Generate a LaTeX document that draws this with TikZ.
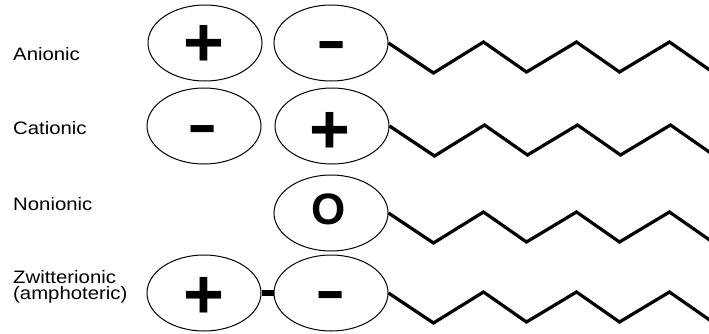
\documentclass[tikz,border=0pt]{standalone}
\usepackage{fontspec}
\setmainfont{Liberation Sans}
\usetikzlibrary{shapes.geometric}
\tikzset{
  head/.style={draw=black, line width=1pt, ellipse, minimum width=114pt, minimum height=76pt, inner sep=0pt},
  sign/.style={inner sep=0pt, font=\fontsize{70}{70}\selectfont\bfseries},
  zero/.style={inner sep=0pt, font=\fontsize{44}{44}\selectfont\bfseries},
  lab/.style={inner sep=0pt, anchor=base west, font=\fontsize{18}{20}\selectfont},
  lab2/.style={inner sep=0pt, anchor=north west, align=left, font=\fontsize{18}{16.5}\selectfont},
  chain/.style={line width=3.2pt, line join=miter, black},
  link/.style={line width=6pt, black}
}
\newcommand{\wide}[1]{\scalebox{1.13}[1]{#1}}
\newcommand{\minus}{\scalebox{1.3}[0.85]{-}}
\begin{document}
\begin{tikzpicture}[x=1pt, y=-1pt]
\useasboundingbox (0,0) rectangle (709,333);
% heads
\node[head] (A1) at (205,43) {};
\node[head] (A2) at (331,43) {};
\node[head] (C1) at (204,126) {};
\node[head] (C2) at (332,126) {};
\node[head] (N)  at (331,213) {};
\node[head] (Z1) at (204,293) {};
\node[head] (Z2) at (331,293) {};
% signs
\node[sign] (sA1) at (204,45.5) {+};
\node[sign] (sA2) at (332,51.5) {\minus};
\node[sign] (sC1) at (203,135) {\minus};
\node[sign] (sC2) at (330,132.5) {+};
\node[zero] (sN)  at (329,209) {O};
\node[sign] (sZ1) at (204,298) {+};
\node[sign] (sZ2) at (331,301) {\minus};
% labels
\node[lab] (lA) at (13,60) {\wide{Anionic}};
\node[lab] (lC) at (13,134) {\wide{Cationic}};
\node[lab] (lN) at (13,210) {\wide{Nonionic}};
\node[lab2] (lZ) at (13,270) {\wide{Zwitterionic}\\\wide{(amphoteric)}};
% link
\draw[link] (Z1.east) -- (Z2.west);
% tails
\foreach \h in {A2,C2,N,Z2}{
  \draw[chain] (\h.east) -- ++(45,30) -- ++(50,-31) -- ++(43,30) -- ++(50,-30) -- ++(43,30) -- ++(50,-30) -- ++(43,30);
}
\end{tikzpicture}
\end{document}
